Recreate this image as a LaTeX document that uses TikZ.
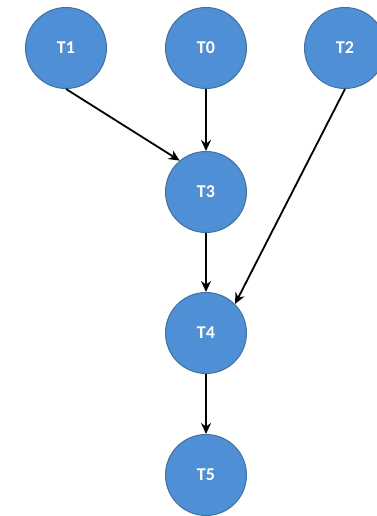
\documentclass[tikz,border=0pt]{standalone}
\usepackage{fontspec}
\setsansfont{Carlito}
\usepackage{xcolor}
\usetikzlibrary{positioning,arrows.meta}
\definecolor{taskfill}{HTML}{4F8FD6}
\definecolor{taskedge}{HTML}{41719C}

\begin{document}
\begin{tikzpicture}[
  x=1pt, y=-1pt,
  task/.style={circle, draw=taskedge, line width=1pt, fill=taskfill, minimum size=81pt, inner sep=0pt,
    text=white, font=\sffamily\bfseries\fontsize{18}{21}\selectfont},
  arr/.style={-{Stealth[length=11pt,width=10pt]}, line width=1.8pt, black}
]
\useasboundingbox (0,0) rectangle (376,516);
\node[task] (t1) at (66,48) {T1};
\node[task] (t0) at (206,48) {T0};
\node[task] (t2) at (345,48) {T2};
\node[task] (t3) at (206,192) {T3};
\node[task] (t4) at (206,333) {T4};
\node[task] (t5) at (206,475) {T5};
\draw[arr] (t1.south) -- (t3.130);
\draw[arr] (t0) -- (t3);
\draw[arr] (t2.south) -- (t4.45);
\draw[arr] (t3) -- (t4);
\draw[arr] (t4) -- (t5);
\end{tikzpicture}
\end{document}
